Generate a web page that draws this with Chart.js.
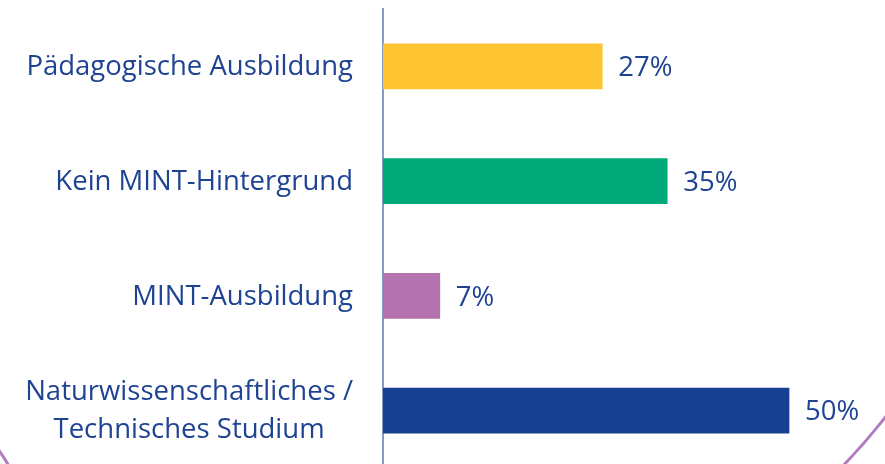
<!DOCTYPE html>
<html>
<head>
<meta charset="utf-8">
<script src="https://cdn.jsdelivr.net/npm/chart.js@4.4.1/dist/chart.umd.min.js"></script>
<style>
  html, body { margin: 0; padding: 0; background: #fff; overflow: hidden; }
  #wrap { position: relative; width: 885px; height: 468px; }
</style>
</head>
<body>
<div id="wrap"><canvas id="chart"></canvas></div>
<script>
const categories = [
  ["Pädagogische Ausbildung"],
  ["Kein MINT-Hintergrund"],
  ["MINT-Ausbildung"],
  ["Naturwissenschaftliches /", "Technisches Studium"],
];
const shares = [27, 35, 7, 50];
const barColors = ["#FFC431", "#00AA78", "#B472AE", "#174091"];

const textColor = "#1F4393";
const fontFamily = "'Open Sans', 'Noto Sans', sans-serif";
const fontSize = 27.5;

// category labels: right aligned block, lines centered inside it
const labelPlugin = {
  id: "catLabels",
  afterDraw(chart) {
    const ctx = chart.ctx;
    const yScale = chart.scales.y;
    const right = 353;
    const lineH = 38;
    ctx.save();
    ctx.font = fontSize + "px " + fontFamily;
    ctx.fillStyle = textColor;
    ctx.textAlign = "center";
    ctx.textBaseline = "middle";
    categories.forEach((lines, i) => {
      const y = yScale.getPixelForValue(i) + 1;
      const w = Math.max(...lines.map((l) => ctx.measureText(l).width));
      const cx = right - w / 2;
      lines.forEach((l, j) => {
        ctx.fillText(l, cx, y + (j - (lines.length - 1) / 2) * lineH);
      });
    });
    ctx.restore();
  },
};

// value labels right of each bar
const valuePlugin = {
  id: "valueLabels",
  afterDatasetsDraw(chart) {
    const ctx = chart.ctx;
    const meta = chart.getDatasetMeta(0);
    ctx.save();
    ctx.font = fontSize + "px " + fontFamily;
    ctx.fillStyle = textColor;
    ctx.textAlign = "left";
    ctx.textBaseline = "middle";
    meta.data.forEach((bar, i) => {
      ctx.fillText(shares[i] + "%", bar.x + 16, bar.y + 2);
    });
    ctx.restore();
  },
};

// decorative purple frame arcs in the corners
const framePlugin = {
  id: "frame",
  afterDraw(chart) {
    const ctx = chart.ctx;
    ctx.save();
    ctx.strokeStyle = "#B07CBF";
    ctx.lineWidth = 3;
    ctx.beginPath();
    ctx.moveTo(887, 415);
    ctx.quadraticCurveTo(866, 442, 841, 468);
    ctx.stroke();
    ctx.beginPath();
    ctx.moveTo(-2, 449);
    ctx.quadraticCurveTo(4, 457, 10, 468);
    ctx.stroke();
    ctx.restore();
  },
};

const ctx = document.getElementById("chart").getContext("2d");
new Chart(ctx, {
  type: "bar",
  data: {
    labels: categories,
    datasets: [
      {
        data: shares,
        backgroundColor: barColors,
        borderWidth: 0,
        barThickness: 45,
      },
    ],
  },
  options: {
    indexAxis: "y",
    responsive: true,
    maintainAspectRatio: false,
    animation: false,
    layout: { padding: { top: 9, right: 5, bottom: 0, left: 0 } },
    plugins: {
      legend: { display: false },
      tooltip: { enabled: false },
    },
    scales: {
      x: {
        display: false,
        min: 0,
        max: 61.2,
      },
      y: {
        grid: { display: false },
        border: { display: true, color: "#8C97C8", width: 2 },
        ticks: { display: false },
        afterFit: (scale) => {
          scale.width = 383;
        },
      },
    },
  },
  plugins: [labelPlugin, valuePlugin, framePlugin],
});
</script>
</body>
</html>
